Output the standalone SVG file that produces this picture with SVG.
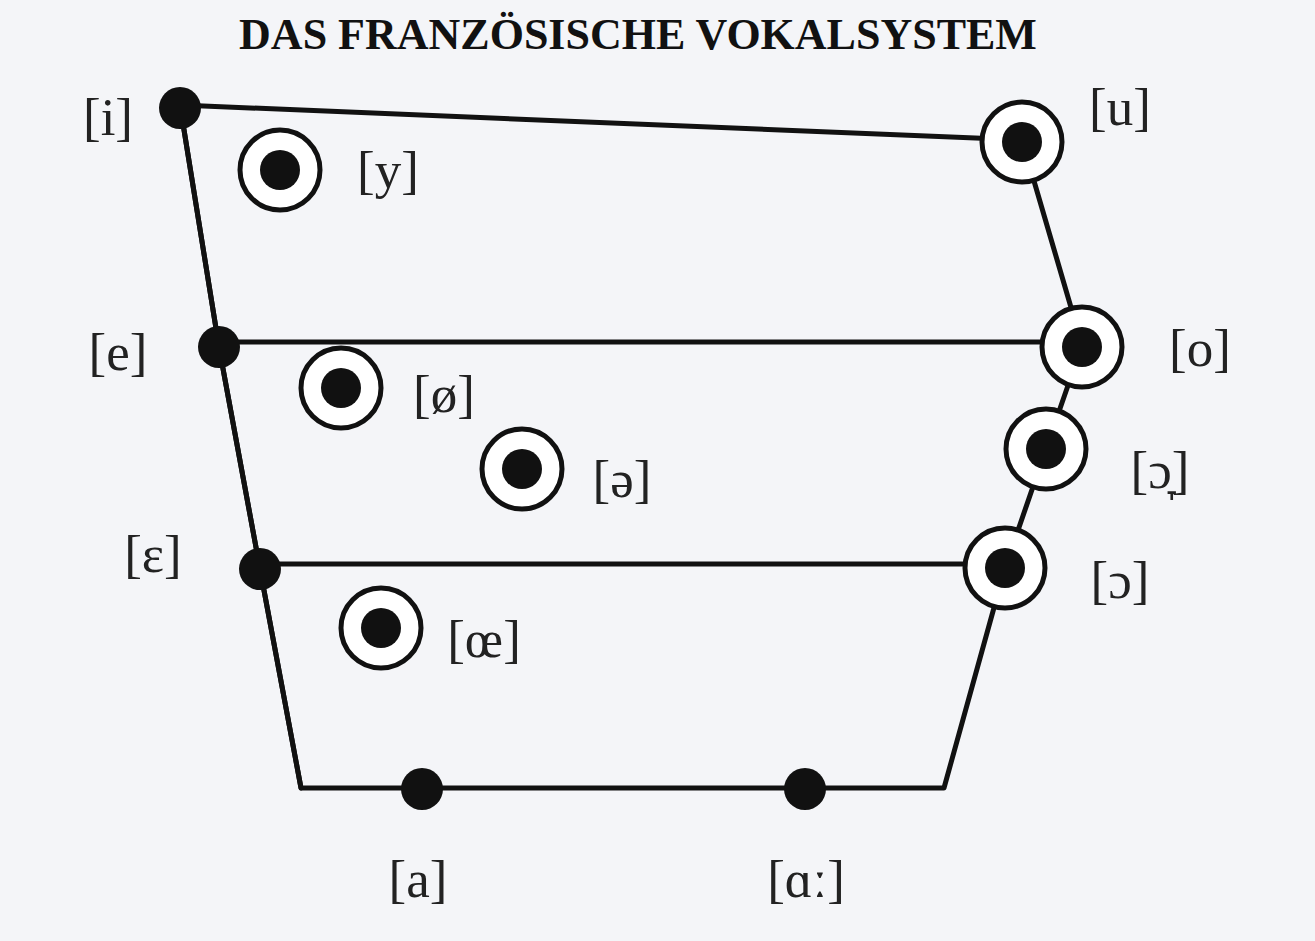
<svg xmlns="http://www.w3.org/2000/svg" width="1315" height="941" viewBox="0 0 1315 941">
<style>
.l{fill:none;stroke:#111;stroke-width:5;stroke-linecap:round;stroke-linejoin:round}
.ring{fill:#fff;stroke:#111;stroke-width:5}
.dot{fill:#111}
text{font-family:"Liberation Serif","DejaVu Serif",serif;fill:#222;font-size:53px;text-anchor:middle}
.t{font-weight:bold;font-size:44px;fill:#111}
</style>
<rect width="1315" height="941" fill="#f4f5f8"/>
<text class="t" x="638" y="49">DAS FRANZÖSISCHE VOKALSYSTEM</text>
<g id="connectors">
<path class="l" d="M180,105 L1022,140 L1082,345 L1046,449 L1005,568 L944,788 L301,788 L260,569 L219,347 Z"/>
<path class="l" d="M180,105 L219,347 L260,569 L301,788"/>
<path class="l" d="M219,342 L1082,342"/>
<path class="l" d="M260,564 L1005,564"/>
</g>
<g id="i"><circle class="dot" cx="180" cy="108" r="21"/><text x="108" y="135">[i]</text></g>
<g id="y"><circle class="ring" cx="280" cy="170" r="40"/><circle class="dot" cx="280" cy="170" r="20"/><text x="388" y="188">[y]</text></g>
<g id="u"><circle class="ring" cx="1022" cy="142" r="40"/><circle class="dot" cx="1022" cy="142" r="20"/><text x="1120" y="125">[u]</text></g>
<g id="e"><circle class="dot" cx="219" cy="347" r="21"/><text x="118" y="370">[e]</text></g>
<g id="o"><circle class="ring" cx="1082" cy="347" r="40"/><circle class="dot" cx="1082" cy="347" r="20"/><text x="1200" y="366">[o]</text></g>
<g id="oe_slash"><circle class="ring" cx="341" cy="388" r="40"/><circle class="dot" cx="341" cy="388" r="20"/><text x="444" y="412">[ø]</text></g>
<g id="schwa"><circle class="ring" cx="522" cy="469" r="40"/><circle class="dot" cx="522" cy="469" r="20"/><text x="622" y="497">[ə]</text></g>
<g id="open_o_lowered"><circle class="ring" cx="1046" cy="449" r="40"/><circle class="dot" cx="1046" cy="449" r="20"/><text x="1160" y="488">[ɔ̞]</text></g>
<g id="epsilon"><circle class="dot" cx="260" cy="569" r="21"/><text x="153" y="572">[ɛ]</text></g>
<g id="open_o"><circle class="ring" cx="1005" cy="568" r="40"/><circle class="dot" cx="1005" cy="568" r="20"/><text x="1120" y="598">[ɔ]</text></g>
<g id="oe"><circle class="ring" cx="381" cy="628" r="40"/><circle class="dot" cx="381" cy="628" r="20"/><text x="484" y="657">[œ]</text></g>
<g id="a"><circle class="dot" cx="422" cy="789" r="21"/><text x="418" y="897">[a]</text></g>
<g id="alpha"><circle class="dot" cx="805" cy="789" r="21"/><text x="806" y="897">[ɑː]</text></g>
</svg>
